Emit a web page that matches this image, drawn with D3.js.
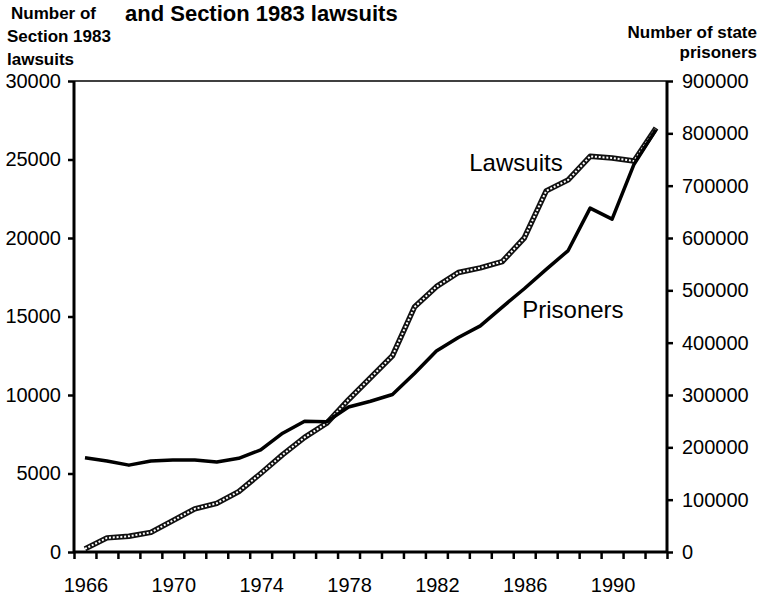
<!DOCTYPE html>
<html>
<head>
<meta charset="utf-8">
<script src="https://cdn.jsdelivr.net/npm/d3@7"></script>
<style>
  body { margin: 0; background: #fff; }
  svg { display: block; font-family: "Liberation Sans", Arial, Helvetica, sans-serif; }
</style>
</head>
<body>
<div id="chart"></div>
<script>
// Years on the category axis
const years = d3.range(1966, 1993);
const yearLabels = [1966, 1970, 1974, 1978, 1982, 1986, 1990];

// Number of Section 1983 lawsuits (left axis)
const lawsuits = [
  200, 900, 1000, 1250, 2000, 2750, 3100, 3850, 5000, 6200,
  7300, 8200, 9700, 11100, 12500, 15600, 16900, 17800, 18100, 18500,
  20000, 23000, 23700, 25200, 25100, 24900, 27000
];

// Number of state prisoners (right axis)
const prisoners = [
  180000, 174000, 166000, 174000, 176000, 176000, 172000, 179000, 195000, 227000,
  250000, 249000, 277000, 288000, 301000, 341000, 384000, 410000, 432000, 468000,
  503000, 540000, 576000, 657000, 636000, 741000, 807000
];

const leftTicks = [0, 5000, 10000, 15000, 20000, 25000, 30000];
const rightTicks = [0, 100000, 200000, 300000, 400000, 500000, 600000, 700000, 800000, 900000];

const width = 768, height = 596;
const margin = { top: 81, right: 101, bottom: 44, left: 74 };
const plotW = width - margin.left - margin.right;
const plotH = height - margin.top - margin.bottom;

const svg = d3.select("#chart").append("svg")
  .attr("width", width)
  .attr("height", height);

const g = svg.append("g")
  .attr("transform", `translate(${margin.left},${margin.top})`);

const x = d3.scaleBand().domain(years).range([0, plotW]);
const yL = d3.scaleLinear().domain([0, 30000]).range([plotH, 0]);
const yR = d3.scaleLinear().domain([0, 900000]).range([plotH, 0]);

// Title (first line is cut off in the source)
svg.append("text")
  .attr("x", 125)
  .attr("y", 21)
  .attr("font-size", "22px")
  .attr("font-weight", "bold")
  .text("and Section 1983 lawsuits");

// Axis titles
const leftTitle = ["Number of", "Section 1983", "lawsuits"];
svg.append("g").selectAll("text")
  .data(leftTitle)
  .enter()
  .append("text")
  .attr("x", (d, i) => (i === 0 ? 11 : 7))
  .attr("y", (d, i) => 19 + i * 23)
  .attr("font-size", "17px")
  .attr("font-weight", "bold")
  .text((d) => d);

const rightTitle = ["Number of state", "prisoners"];
svg.append("g").selectAll("text")
  .data(rightTitle)
  .enter()
  .append("text")
  .attr("x", 757)
  .attr("y", (d, i) => 38 + i * 20)
  .attr("text-anchor", "end")
  .attr("font-size", "17px")
  .attr("font-weight", "bold")
  .text((d) => d);

// Top border
g.append("line")
  .attr("x1", 0).attr("x2", plotW)
  .attr("y1", 0).attr("y2", 0)
  .attr("stroke", "#000")
  .attr("stroke-width", 1.5);

// Left axis
const leftAxis = g.append("g")
  .call(d3.axisLeft(yL).tickValues(leftTicks).tickSize(6).tickPadding(7).tickFormat(d3.format("d")));
// Right axis
const rightAxis = g.append("g")
  .attr("transform", `translate(${plotW},0)`)
  .call(d3.axisRight(yR).tickValues(rightTicks).tickSize(6).tickPadding(9).tickFormat(d3.format("d")));

// Bottom axis: ticks between categories, labels every 4 years
const xEdges = d3.scaleLinear().domain([0, years.length]).range([0, plotW]);
const bottom = g.append("g").attr("transform", `translate(0,${plotH})`);
bottom.append("g")
  .call(d3.axisBottom(xEdges).tickValues(d3.range(0, years.length + 1)).tickSize(7).tickFormat(""));
bottom.selectAll(".year")
  .data(yearLabels)
  .enter()
  .append("text")
  .attr("class", "year")
  .attr("x", (d) => x(d) + x.bandwidth() / 2 + 1)
  .attr("y", 40)
  .attr("text-anchor", "middle")
  .attr("font-size", "20px")
  .text((d) => d);

[leftAxis, rightAxis, bottom].forEach((a) => {
  a.selectAll(".domain").attr("stroke", "#000").attr("stroke-width", 3);
  a.selectAll(".tick line").attr("stroke", "#000").attr("stroke-width", 2.5);
  a.selectAll(".tick text").attr("font-size", "20px").attr("font-family", "Liberation Sans, Arial, sans-serif").attr("fill", "#000");
});
bottom.select(".domain").attr("d", `M0,0H${plotW}`);
leftAxis.select(".domain").attr("d", `M0,${plotH}V0`);
rightAxis.select(".domain").attr("d", `M0,${plotH}V0`);

// Lines
const cx = (i) => x(years[i]) + x.bandwidth() / 2;
const lawLine = d3.line().x((d, i) => cx(i)).y((d) => yL(d));
const prisLine = d3.line().x((d, i) => cx(i)).y((d) => yR(d));

// Lawsuits: chain-like patterned line
g.append("path")
  .datum(lawsuits)
  .attr("d", lawLine)
  .attr("fill", "none")
  .attr("stroke", "#111")
  .attr("stroke-width", 5.5)
  .attr("stroke-linejoin", "round");
g.append("path")
  .datum(lawsuits)
  .attr("d", lawLine)
  .attr("fill", "none")
  .attr("stroke", "#fff")
  .attr("stroke-width", 2)
  .attr("stroke-dasharray", "2,1.8");

// Prisoners: solid black
g.append("path")
  .datum(prisoners)
  .attr("d", prisLine)
  .attr("fill", "none")
  .attr("stroke", "#000")
  .attr("stroke-width", 3.5)
  .attr("stroke-linejoin", "round");

// Series labels
g.append("text")
  .attr("x", x(1985) + x.bandwidth() / 2 - 33)
  .attr("y", yL(25000) + 11)
  .attr("font-size", "24px")
  .text("Lawsuits");
g.append("text")
  .attr("x", x(1987) + x.bandwidth() / 2 - 24)
  .attr("y", yR(460000) + 7)
  .attr("font-size", "24px")
  .text("Prisoners");
</script>
</body>
</html>
